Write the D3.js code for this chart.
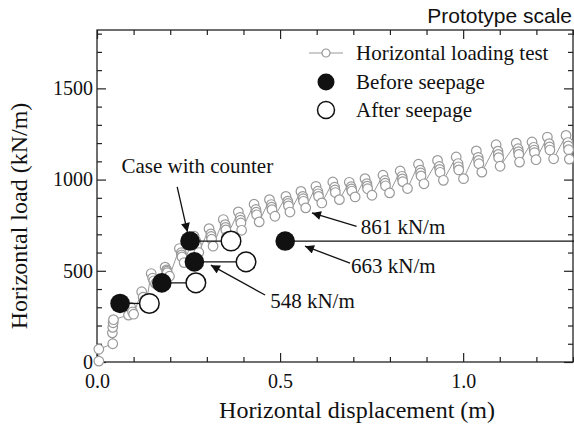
<!DOCTYPE html>
<html>
<head>
<meta charset="utf-8">
<script src="https://cdn.jsdelivr.net/npm/d3@7"></script>
<style>
  html, body { margin: 0; padding: 0; background: #fff; }
  #vis svg { display: block; }
</style>
</head>
<body>
<div id="vis"></div>
<script>
// tick labels
const xMajorTicks = [0, 0.5, 1.0];
const yMajorTicks = [0, 500, 1000, 1500];

// horizontal loading test (cyclic), [displacement m, load kN/m]
const loadingTest = [
  [0.005, 5], [0.005, 70], [0.043, 100], [0.042, 160], [0.043, 190], [0.044, 215], [0.045, 232],
  [0.086, 257], [0.092, 300], [0.097, 275], [0.100, 262],
  [0.122, 385], [0.126, 355], [0.130, 340], [0.135, 330],
  [0.148, 485], [0.152, 460], [0.155, 445], [0.160, 430],
  [0.186, 520], [0.190, 505], [0.191, 498], [0.192, 490], [0.198, 470],
  [0.225, 622], [0.230, 599], [0.231, 587], [0.232, 576], [0.238, 545],
  [0.265, 690], [0.270, 663], [0.271, 650], [0.272, 636], [0.278, 600],
  [0.306, 731], [0.311, 702], [0.312, 688], [0.313, 673], [0.317, 635],
  [0.345, 781], [0.350, 753], [0.351, 738], [0.352, 724], [0.354, 686],
  [0.386, 823], [0.391, 793], [0.392, 778], [0.393, 762], [0.395, 722],
  [0.429, 865], [0.434, 836], [0.435, 821], [0.436, 807], [0.443, 768],
  [0.471, 890], [0.476, 863], [0.477, 849], [0.478, 835], [0.486, 799],
  [0.516, 908], [0.521, 882], [0.522, 869], [0.523, 856], [0.527, 822],
  [0.557, 935], [0.562, 908], [0.563, 895], [0.564, 881], [0.570, 845],
  [0.598, 963], [0.603, 936], [0.604, 922], [0.605, 908], [0.614, 872],
  [0.644, 987], [0.649, 958], [0.650, 943], [0.651, 929], [0.662, 890],
  [0.689, 985], [0.694, 961], [0.695, 949], [0.696, 937], [0.705, 905],
  [0.732, 1005], [0.737, 978], [0.738, 964], [0.739, 950], [0.751, 914],
  [0.781, 1024], [0.786, 995], [0.787, 980], [0.788, 966], [0.799, 927],
  [0.828, 1047], [0.833, 1018], [0.834, 1004], [0.835, 989], [0.848, 951],
  [0.878, 1084], [0.883, 1052], [0.884, 1036], [0.885, 1020], [0.893, 977],
  [0.930, 1105], [0.935, 1072], [0.936, 1056], [0.937, 1040], [0.946, 996],
  [0.981, 1124], [0.986, 1088], [0.987, 1070], [0.988, 1053], [1.001, 1005],
  [1.036, 1157], [1.041, 1122], [1.042, 1105], [1.043, 1087], [1.051, 1041],
  [1.090, 1191], [1.095, 1156], [1.096, 1138], [1.097, 1120], [1.101, 1073],
  [1.145, 1200], [1.150, 1169], [1.151, 1153], [1.152, 1138], [1.154, 1096],
  [1.188, 1206], [1.193, 1177], [1.194, 1162], [1.195, 1148], [1.199, 1109],
  [1.230, 1233], [1.235, 1197], [1.236, 1179], [1.237, 1162], [1.247, 1114],
  [1.281, 1242], [1.286, 1203], [1.287, 1184], [1.288, 1164], [1.290, 1112]
];

// centrifuge cases, [displacement m, load kN/m]
const beforeSeepage = [[0.063, 321], [0.177, 434], [0.266, 549], [0.254, 663], [0.514, 663]];
const afterSeepage = [[0.143, 321], [0.270, 434], [0.407, 549], [0.366, 663], [1.45, 663]];

const legendLabels = ["Horizontal loading test", "Before seepage", "After seepage"];
const noteLabels = ["861 kN/m", "663 kN/m", "548 kN/m", "Case with counter"];

function loadchart(options) {
  ////////////////////////////////////////
  /////////////// Defaults ///////////////
  ////////////////////////////////////////

  let defaults = {
    selector: "#vis",
    width: 574,
    height: 431,
    margin: { top: 30, right: 1, bottom: 69, left: 97 },
    serif: "'Liberation Serif', 'Times New Roman', serif",
    sans: "'Liberation Sans', Arial, sans-serif",
    gray: "#999",
  };
  options = { ...defaults, ...options };

  const width = options.width - options.margin.left - options.margin.right;
  const height = options.height - options.margin.top - options.margin.bottom;

  ////////////////////////////////////////
  ////////////// Scales //////////////////
  ////////////////////////////////////////

  const x = d3.scaleLinear().domain([0, 1.3]).range([0, width]);
  const y = d3.scaleLinear().domain([0, 1820]).range([height, 0]);

  ////////////////////////////////////////
  ////////////// SVG Setup ///////////////
  ////////////////////////////////////////

  const svg = d3
    .select(options.selector)
    .append("svg")
    .attr("width", options.width)
    .attr("height", options.height);

  svg
    .append("text")
    .attr("x", 572)
    .attr("y", 23)
    .attr("text-anchor", "end")
    .attr("font-family", options.sans)
    .attr("font-size", 21)
    .attr("fill", "#111")
    .text("Prototype scale");

  const g = svg
    .append("g")
    .attr("transform", `translate(${options.margin.left},${options.margin.top})`);

  ////////////////////////////////////////
  ////////////// Axes ////////////////////
  ////////////////////////////////////////

  const xMinor = d3.range(0, 1.31, 0.1).filter((d) => Math.abs(d * 2 - Math.round(d * 2)) > 1e-6);
  const yMinor = d3.range(0, 1801, 100).filter((d) => d % 500 !== 0);

  function styleAxis(sel) {
    sel.select(".domain").remove();
    sel.selectAll("line").attr("stroke", "#222").attr("stroke-width", 1.2);
    sel.selectAll("text").attr("font-family", options.serif).attr("font-size", 20).attr("fill", "#111");
  }

  // major ticks with labels, minor ticks without, all pointing inward
  g.append("g")
    .attr("transform", `translate(0,${height})`)
    .call(d3.axisBottom(x).tickValues(xMajorTicks).tickSize(-9).tickPadding(12).tickFormat(d3.format(".1f")))
    .call(styleAxis);
  g.append("g")
    .attr("transform", `translate(0,${height})`)
    .call(d3.axisBottom(x).tickValues(xMinor).tickSize(-5).tickFormat(""))
    .call(styleAxis);
  g.append("g")
    .call(d3.axisTop(x).tickValues(xMajorTicks).tickSize(-9).tickFormat(""))
    .call(styleAxis);
  g.append("g")
    .call(d3.axisTop(x).tickValues(xMinor).tickSize(-5).tickFormat(""))
    .call(styleAxis);

  g.append("g")
    .call(d3.axisLeft(y).tickValues(yMajorTicks).tickSize(-9).tickPadding(4).tickFormat(d3.format("d")))
    .call(styleAxis);
  g.append("g")
    .call(d3.axisLeft(y).tickValues(yMinor).tickSize(-5).tickFormat(""))
    .call(styleAxis);
  g.append("g")
    .attr("transform", `translate(${width},0)`)
    .call(d3.axisRight(y).tickValues(yMajorTicks).tickSize(-9).tickFormat(""))
    .call(styleAxis);
  g.append("g")
    .attr("transform", `translate(${width},0)`)
    .call(d3.axisRight(y).tickValues(yMinor).tickSize(-5).tickFormat(""))
    .call(styleAxis);

  g.append("rect")
    .attr("width", width)
    .attr("height", height)
    .attr("fill", "none")
    .attr("stroke", "#222")
    .attr("stroke-width", 1.3);

  g.append("text")
    .attr("x", width / 2 + 22)
    .attr("y", height + 56)
    .attr("text-anchor", "middle")
    .attr("font-family", options.serif)
    .attr("font-size", 24)
    .attr("fill", "#111")
    .text("Horizontal displacement (m)");

  svg
    .append("text")
    .attr("transform", `translate(27,${options.margin.top + height / 2 + 20}) rotate(-90)`)
    .attr("text-anchor", "middle")
    .attr("font-family", options.serif)
    .attr("font-size", 24)
    .attr("fill", "#111")
    .text("Horizontal load (kN/m)");

  ////////////////////////////////////////
  ////////////// Marks ///////////////////
  ////////////////////////////////////////

  g.append("path")
    .datum(loadingTest)
    .attr("fill", "none")
    .attr("stroke", options.gray)
    .attr("stroke-width", 1)
    .attr("d", d3.line().x((d) => x(d[0])).y((d) => y(d[1])));

  g.selectAll(".test")
    .data(loadingTest)
    .join("circle")
    .attr("class", "test")
    .attr("cx", (d) => x(d[0]))
    .attr("cy", (d) => y(d[1]))
    .attr("r", 4.8)
    .attr("fill", "#fff")
    .attr("stroke", options.gray)
    .attr("stroke-width", 1.2);

  // before -> after connectors
  g.selectAll(".link")
    .data(beforeSeepage)
    .join("line")
    .attr("class", "link")
    .attr("x1", (d) => x(d[0]))
    .attr("x2", (d, i) => x(afterSeepage[i][0]))
    .attr("y1", (d) => y(d[1]))
    .attr("y2", (d) => y(d[1]))
    .attr("stroke", "#111")
    .attr("stroke-width", 1.3);

  g.selectAll(".after")
    .data(afterSeepage)
    .join("circle")
    .attr("class", "after")
    .attr("cx", (d) => x(d[0]))
    .attr("cy", (d) => y(d[1]))
    .attr("r", 9.8)
    .attr("fill", "#fff")
    .attr("stroke", "#111")
    .attr("stroke-width", 1.5);

  g.selectAll(".before")
    .data(beforeSeepage)
    .join("circle")
    .attr("class", "before")
    .attr("cx", (d) => x(d[0]))
    .attr("cy", (d) => y(d[1]))
    .attr("r", 9.8)
    .attr("fill", "#111");

  ////////////////////////////////////////
  ////////////// Notes ///////////////////
  ////////////////////////////////////////

  svg
    .append("defs")
    .append("marker")
    .attr("id", "head")
    .attr("viewBox", "0 0 10 10")
    .attr("refX", 10)
    .attr("refY", 5)
    .attr("markerWidth", 12)
    .attr("markerHeight", 9)
    .attr("markerUnits", "userSpaceOnUse")
    .attr("orient", "auto")
    .append("path")
    .attr("d", "M0,0L10,5L0,10z")
    .attr("fill", "#111");

  // label text position and arrow from tail to tip, in data units
  const notes = [
    { text: noteLabels[0], at: [0.72, 700], from: [0.709, 744], to: [0.587, 817] },
    { text: noteLabels[1], at: [0.694, 487], from: [0.691, 542], to: [0.568, 635] },
    { text: noteLabels[2], at: [0.473, 296], from: [0.459, 367], to: [0.311, 531] },
    { text: noteLabels[3], at: [0.067, 1036], from: [0.219, 960], to: [0.247, 713] },
  ];

  g.selectAll(".arrow")
    .data(notes)
    .join("line")
    .attr("class", "arrow")
    .attr("x1", (d) => x(d.from[0]))
    .attr("y1", (d) => y(d.from[1]))
    .attr("x2", (d) => x(d.to[0]))
    .attr("y2", (d) => y(d.to[1]))
    .attr("stroke", "#111")
    .attr("stroke-width", 1.3)
    .attr("marker-end", "url(#head)");

  g.selectAll(".note")
    .data(notes)
    .join("text")
    .attr("class", "note")
    .attr("x", (d) => x(d.at[0]))
    .attr("y", (d) => y(d.at[1]))
    .attr("font-family", options.serif)
    .attr("font-size", 21)
    .attr("fill", "#111")
    .text((d) => d.text);

  ////////////////////////////////////////
  ////////////// Legend //////////////////
  ////////////////////////////////////////

  const legend = svg.append("g").attr("transform", "translate(326,53)");

  legend.append("line")
    .attr("x1", -17).attr("x2", 17)
    .attr("stroke", options.gray).attr("stroke-width", 1.2);
  legend.append("circle")
    .attr("r", 4).attr("fill", "#fff")
    .attr("stroke", options.gray).attr("stroke-width", 1.2);
  legend.append("circle")
    .attr("cy", 29).attr("r", 8.5).attr("fill", "#111");
  legend.append("circle")
    .attr("cy", 57).attr("r", 8.5).attr("fill", "#fff")
    .attr("stroke", "#111").attr("stroke-width", 1.5);

  legend.selectAll("text")
    .data(legendLabels)
    .join("text")
    .attr("x", 30)
    .attr("y", (d, i) => i * 28.5 + 7)
    .attr("font-family", options.serif)
    .attr("font-size", 21)
    .attr("fill", "#111")
    .text((d) => d);
}

loadchart();
</script>
</body>
</html>
